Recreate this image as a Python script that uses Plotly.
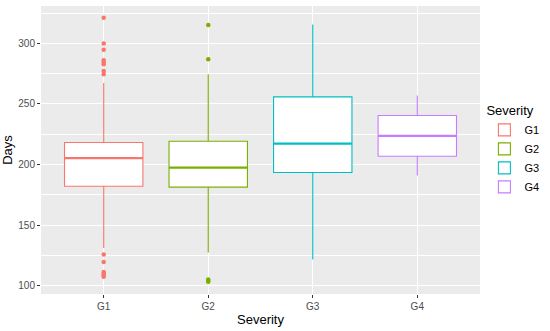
import plotly.graph_objects as go

categories = ["G1", "G2", "G3", "G4"]
colors = ["#F8766D", "#7CAE00", "#00BFC4", "#C77CFF"]
q1 = [182.1, 181.3, 193.4, 206.8]
median = [205.2, 197.5, 217.3, 223.6]
q3 = [218.2, 219.2, 255.8, 240.4]
lower_fence = [131.2, 127.4, 121.6, 190.9]
upper_fence = [267.3, 274.5, 315.5, 256.9]
outliers = {
    "G1": [321.1, 299.8, 294.6, 286.0, 284.3, 282.7, 277.2, 274.5,
           125.7, 119.6, 111.4, 110.0, 108.7, 107.3],
    "G2": [315.2, 286.9, 105.1, 104.0, 103.2],
    "G3": [],
    "G4": [],
}

BOX_W = 0.75
fig = go.Figure()
for i, c in enumerate(categories):
    fig.add_trace(go.Box(
        x=[i], q1=[q1[i]], median=[median[i]], q3=[q3[i]],
        lowerfence=[lower_fence[i]], upperfence=[upper_fence[i]],
        name=c,
        line=dict(color=colors[i], width=1.1),
        fillcolor="white", width=BOX_W, boxpoints=False,
        whiskerwidth=0, hoverinfo="y",
    ))
for i, c in enumerate(categories):
    # thicker median line, as ggplot draws it
    fig.add_trace(go.Scatter(
        x=[i - BOX_W / 2, i + BOX_W / 2], y=[median[i], median[i]],
        mode="lines", line=dict(color=colors[i], width=2.2),
        showlegend=False, hoverinfo="skip",
    ))
    if outliers[c]:
        fig.add_trace(go.Scatter(
            x=[i] * len(outliers[c]), y=outliers[c], mode="markers",
            marker=dict(color=colors[i], size=4.5),
            showlegend=False, hoverinfo="y",
        ))

fig.update_layout(
    width=550, height=331,
    margin=dict(l=41, r=67, t=6, b=37),
    paper_bgcolor="white", plot_bgcolor="#EBEBEB",
    font=dict(family="Liberation Sans, Arial, sans-serif", color="#4D4D4D", size=10),
    legend=dict(
        title=dict(text="Severity", font=dict(size=13, color="black")),
        x=1.01, y=0.5, xanchor="left", yanchor="middle",
        font=dict(size=11, color="black"),
        tracegroupgap=0, itemwidth=30,
    ),
)
fig.update_xaxes(
    range=[-0.6, 3.6], tickvals=[0, 1, 2, 3], ticktext=categories,
    showgrid=True, gridcolor="white", gridwidth=1.1,
    ticks="outside", ticklen=3, tickcolor="#333333",
    title=dict(text="Severity", font=dict(size=13, color="black"), standoff=3),
    zeroline=False, showline=False, automargin=False,
)
fig.update_yaxes(
    range=[93.15, 330.8], tickvals=[100, 150, 200, 250, 300],
    showgrid=True, gridcolor="white", gridwidth=1.1,
    minor=dict(tickvals=[125, 175, 225, 275, 325], showgrid=True, gridcolor="white", gridwidth=0.5, ticks=""),
    ticks="outside", ticklen=3, tickcolor="#333333",
    title=dict(text="Days", font=dict(size=13, color="black"), standoff=8),
    zeroline=False, showline=False, automargin=False,
)
fig.write_html("out.html", config={"displayModeBar": False},
               post_script="document.body.style.margin='0px';")
